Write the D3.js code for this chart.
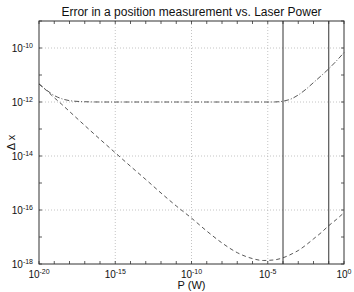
<!DOCTYPE html>
<html lang="en">
<head>
  <meta charset="UTF-8">
  <title>Error in a position measurement vs. Laser Power</title>
  <script src="https://d3js.org/d3.v7.min.js"></script>
  <style>
    body { margin: 0; background: #fff; }
    text { font-family: "Liberation Sans", Arial, sans-serif; fill: #111; }
  </style>
</head>
<body>
  <div id="chart"></div>
  <script>
    // Data, as log10 values
    const logP = [-20, -19.5, -19, -18.5, -18, -17, -16, -15, -14, -13, -12, -11, -10, -9, -8, -7, -6, -5.3, -4.6, -4, -3.4, -3, -2.5, -2, -1.5, -1, -0.5, 0];
    // total error (dash-dot)
    const logTotal = [-11.33, -11.56, -11.76, -11.88, -11.95, -11.99, -12, -12, -12, -12, -12, -12, -12, -12, -12, -12, -12, -12, -12, -11.97, -11.87, -11.74, -11.53, -11.28, -11.03, -10.77, -10.48, -10.17];
    // measurement error (dashed)
    const logMeas = [-11.33, -11.58, -11.84, -12.09, -12.35, -12.87, -13.38, -13.88, -14.38, -14.87, -15.37, -15.85, -16.3, -16.78, -17.22, -17.58, -17.8, -17.87, -17.85, -17.77, -17.62, -17.5, -17.3, -17.07, -16.84, -16.58, -16.35, -16.1];
    // vertical marker powers (W)
    const markerP = [1e-4, 1e-1];
    // axis ticks (exponents)
    const xMajor = [-20, -15, -10, -5, 0];
    const yMajor = [-18, -16, -14, -12, -10];

    const W = 354, H = 292;
    const margin = { top: 21, right: 10, bottom: 28, left: 39 };
    const x0 = margin.left, x1 = W - margin.right;
    const y0 = margin.top, y1 = H - margin.bottom;

    const x = d3.scaleLog().domain([1e-20, 1]).range([x0, x1]);
    const y = d3.scaleLog().domain([1e-18, 1e-9]).range([y1, y0]);

    const svg = d3.select("#chart").append("svg")
      .attr("width", W)
      .attr("height", H);

    svg.append("rect").attr("width", W).attr("height", H).attr("fill", "#fff");

    // grid
    const grid = svg.append("g")
      .attr("stroke", "#b5b5b5")
      .attr("stroke-width", 0.8)
      .attr("stroke-dasharray", "1,2");
    grid.selectAll(".gx").data(xMajor.slice(1, -1)).enter().append("line")
      .attr("x1", d => x(10 ** d)).attr("x2", d => x(10 ** d))
      .attr("y1", y0).attr("y2", y1);
    grid.selectAll(".gy").data(yMajor.slice(1)).enter().append("line")
      .attr("x1", x0).attr("x2", x1)
      .attr("y1", d => y(10 ** d)).attr("y2", d => y(10 ** d));

    // ticks every decade, inside, on all four sides
    const xDec = d3.range(-20, 1);
    const yDec = d3.range(-18, -8);
    const ticks = svg.append("g").attr("stroke", "#333").attr("stroke-width", 0.8);
    xDec.forEach(d => {
      const px = x(10 ** d);
      ticks.append("line").attr("x1", px).attr("x2", px).attr("y1", y1).attr("y2", y1 - 3);
      ticks.append("line").attr("x1", px).attr("x2", px).attr("y1", y0).attr("y2", y0 + 3);
    });
    yDec.forEach(d => {
      const py = y(10 ** d);
      ticks.append("line").attr("x1", x0).attr("x2", x0 + 3).attr("y1", py).attr("y2", py);
      ticks.append("line").attr("x1", x1).attr("x2", x1 - 3).attr("y1", py).attr("y2", py);
    });

    // curves
    const line = d3.line()
      .x(d => x(10 ** d[0]))
      .y(d => y(10 ** d[1]))
      .curve(d3.curveMonotoneX);

    svg.append("path")
      .datum(logP.map((p, i) => [p, logTotal[i]]))
      .attr("d", line)
      .attr("fill", "none")
      .attr("stroke", "#444")
      .attr("stroke-width", 0.9)
      .attr("stroke-dasharray", "5,2,1,2");

    svg.append("path")
      .datum(logP.map((p, i) => [p, logMeas[i]]))
      .attr("d", line)
      .attr("fill", "none")
      .attr("stroke", "#444")
      .attr("stroke-width", 0.9)
      .attr("stroke-dasharray", "4,3");

    // vertical markers
    svg.selectAll(".marker").data(markerP).enter().append("line")
      .attr("x1", d => x(d)).attr("x2", d => x(d))
      .attr("y1", y0).attr("y2", y1)
      .attr("stroke", "#333")
      .attr("stroke-width", 1);

    // frame
    svg.append("rect")
      .attr("x", x0).attr("y", y0)
      .attr("width", x1 - x0).attr("height", y1 - y0)
      .attr("fill", "none")
      .attr("stroke", "#333")
      .attr("stroke-width", 1);

    // tick labels
    xMajor.forEach(d => {
      const t = svg.append("text")
        .attr("x", x(10 ** d))
        .attr("y", y1 + 14)
        .attr("text-anchor", "middle")
        .attr("font-size", 10);
      t.append("tspan").text("10");
      t.append("tspan").attr("dy", -4).attr("font-size", 7).text(d);
    });
    yMajor.forEach(d => {
      const t = svg.append("text")
        .attr("x", x0 - 6)
        .attr("y", y(10 ** d) + 4)
        .attr("text-anchor", "end")
        .attr("font-size", 10);
      t.append("tspan").text("10");
      t.append("tspan").attr("dy", -4).attr("font-size", 7).text(d);
    });

    // title and axis labels
    svg.append("text")
      .attr("x", (x0 + x1) / 2)
      .attr("y", 16)
      .attr("text-anchor", "middle")
      .attr("font-size", 12)
      .text("Error in a position measurement vs. Laser Power");

    svg.append("text")
      .attr("x", (x0 + x1) / 2)
      .attr("y", H - 3)
      .attr("text-anchor", "middle")
      .attr("font-size", 11)
      .text("P (W)");

    svg.append("text")
      .attr("transform", `translate(15,${(y0 + y1) / 2}) rotate(-90)`)
      .attr("text-anchor", "middle")
      .attr("font-size", 11)
      .text("Δ x");
  </script>
</body>
</html>
